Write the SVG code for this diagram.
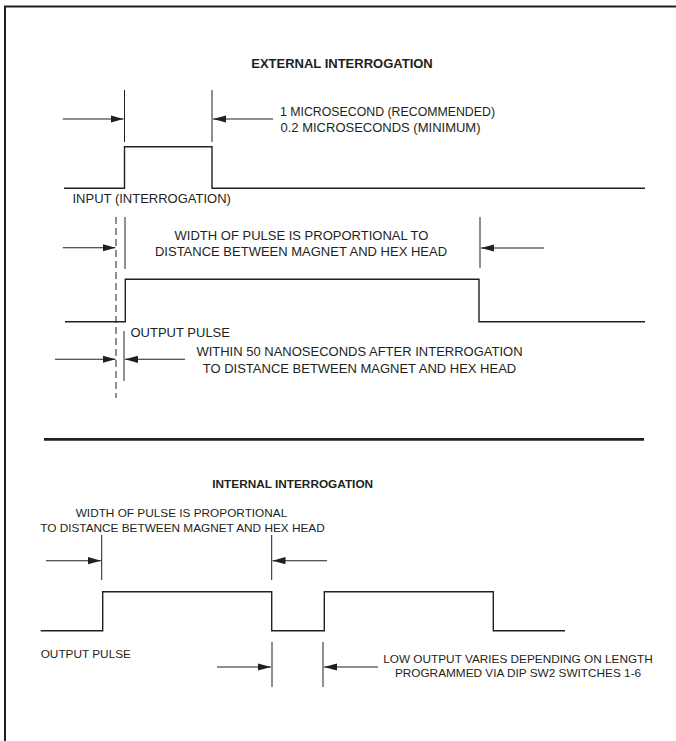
<svg xmlns="http://www.w3.org/2000/svg" width="676" height="741" viewBox="0 0 676 741">
  <style>
    .t { font-family: "Liberation Sans", Arial, sans-serif; fill: #231f20; }
    .up { font-size: 13px; }
    .lo { font-size: 11.8px; }
    .b { font-weight: bold; }
    .mid { text-anchor: middle; }
    .sig { fill: none; stroke: #231f20; stroke-width: 1.4; }
    .dim { fill: none; stroke: #231f20; stroke-width: 1; }
    .dash { fill: none; stroke: #231f20; stroke-width: 1; stroke-dasharray: 7 4; }
    .arr { fill: none; stroke: #231f20; stroke-width: 1.1; marker-end: url(#ah); }
  </style>
  <defs>
    <marker id="ah" markerUnits="userSpaceOnUse" markerWidth="14" markerHeight="8" refX="13" refY="4" orient="auto">
      <path d="M0,0.4 L13,4 L0,7.6 Z" fill="#231f20"/>
    </marker>
  </defs>
  <rect width="676" height="741" fill="#ffffff"/>
  <g id="frame">
    <path d="M4,6.5 H676" stroke="#231f20" stroke-width="2" fill="none"/>
    <path d="M5,6 V741" stroke="#231f20" stroke-width="2" fill="none"/>
  </g>

  <g id="external">
    <text class="t up b mid" x="342" y="68.3">EXTERNAL INTERROGATION</text>
    <g id="ext-input">
      <path class="dim" d="M124.5,90 V142 M212,90 V142"/>
      <path class="sig" d="M64,188.3 H124.5 V146.7 H212 V188.3 H645"/>
      <text class="t up" x="280" y="116" textLength="215" lengthAdjust="spacingAndGlyphs">1 MICROSECOND (RECOMMENDED)</text>
      <text class="t up" x="280.5" y="132" textLength="200" lengthAdjust="spacingAndGlyphs">0.2 MICROSECONDS (MINIMUM)</text>
      <text class="t up" x="72.5" y="202.7">INPUT (INTERROGATION)</text>
    </g>
    <g id="ext-output">
      <path class="dash" d="M116,217 V398"/>
      <path class="dim" d="M125,217 V269 M124,331 V381 M480,217 V268"/>
      <path class="sig" d="M65,321.7 H125.3 V279.3 H479 V321.7 H645"/>
      <text class="t up mid" x="301.5" y="240">WIDTH OF PULSE IS PROPORTIONAL TO</text>
      <text class="t up mid" x="301" y="255.7">DISTANCE BETWEEN MAGNET AND HEX HEAD</text>
      <text class="t up" x="130.5" y="336.7">OUTPUT PULSE</text>
      <text class="t up mid" x="359.5" y="356">WITHIN 50 NANOSECONDS AFTER INTERROGATION</text>
      <text class="t up mid" x="359.5" y="372.7">TO DISTANCE BETWEEN MAGNET AND HEX HEAD</text>
    </g>
  </g>

  <g id="separator">
    <path d="M44,439.3 H644" stroke="#231f20" stroke-width="2.8" fill="none"/>
  </g>

  <g id="internal">
    <text class="t lo b mid" x="292.7" y="488">INTERNAL INTERROGATION</text>
    <g id="int-output">
      <text class="t lo mid" x="181.5" y="516.7">WIDTH OF PULSE IS PROPORTIONAL</text>
      <text class="t lo mid" x="182.5" y="531.7">TO DISTANCE BETWEEN MAGNET AND HEX HEAD</text>
      <path class="dim" d="M101.7,535 V580 M271.7,535 V580 M272,642 V687 M323,642 V687"/>
      <path class="sig" d="M40.7,630.7 H102.7 V591.7 H271.7 V630.7 H324.3 V591.7 H493.3 V630.7 H565"/>
      <text class="t lo" x="40.7" y="658">OUTPUT PULSE</text>
      <text class="t lo mid" x="518" y="663.3">LOW OUTPUT VARIES DEPENDING ON LENGTH</text>
      <text class="t lo mid" x="518" y="676.7">PROGRAMMED VIA DIP SW2 SWITCHES 1-6</text>
    </g>
  </g>

  <g id="connectors">
    <path class="arr" d="M62.7,119 H123.5"/>
    <path class="arr" d="M273,119 H213"/>
    <path class="arr" d="M62.7,247.7 H115.5"/>
    <path class="arr" d="M544,248 H481"/>
    <path class="arr" d="M55,359.3 H115.5"/>
    <path class="arr" d="M185,359.3 H125"/>
    <path class="arr" d="M46,560.7 H101"/>
    <path class="arr" d="M327,560.7 H272.5"/>
    <path class="arr" d="M217,667 H271"/>
    <path class="arr" d="M378,667 H324"/>
  </g>
</svg>
